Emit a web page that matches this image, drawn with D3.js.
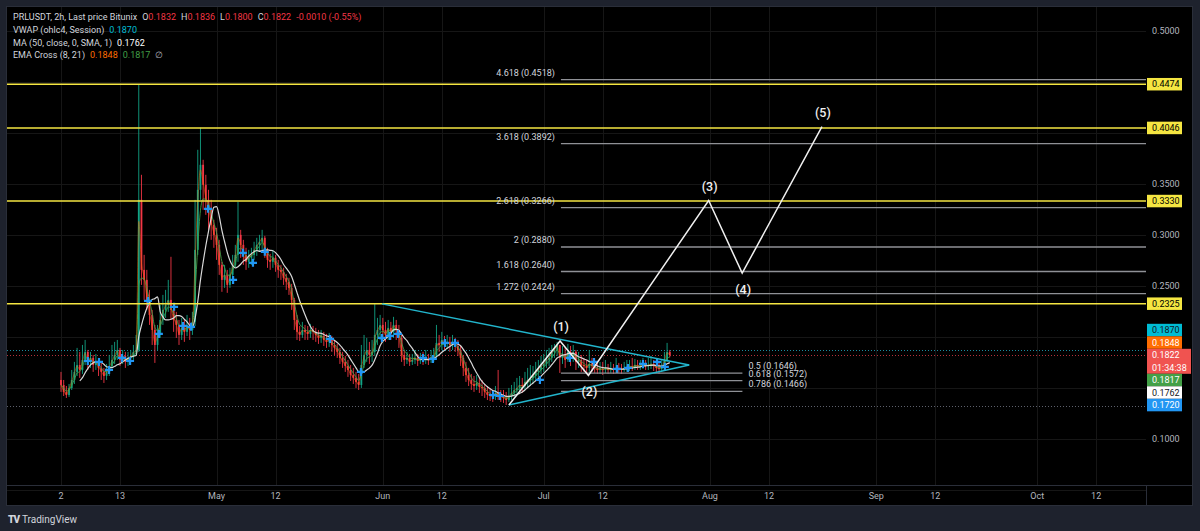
<!DOCTYPE html>
<html>
<head>
<meta charset="utf-8">
<script src="https://cdn.jsdelivr.net/npm/d3@7"></script>
<style>
  html, body { margin: 0; padding: 0; background: #1e222d; }
  svg { display: block; font-family: Roboto, "Liberation Sans", sans-serif; }
</style>
</head>
<body>
<svg id="chart" width="1200" height="531"></svg>
<script>
// ---------------------------------------------
// Data (PRLUSDT, resampled to 12h candles)
// ---------------------------------------------
const candleStart = "2025-04-02 00:00";
const candleStepHours = 12;
const firstOpen = 0.1578;

const closes = [
  0.1529,0.1461,0.1431,0.1500,0.1578,0.1657,0.1725,0.1676,0.1774,0.1853,
  0.1755,0.1794,0.1725,0.1755,0.1696,0.1657,0.1617,0.1657,0.1715,0.1774,
  0.1823,0.1872,0.1774,0.1813,0.1755,0.1794,0.1813,0.1853,0.1872,0.3342,
  0.2656,0.2558,0.2362,0.2215,0.2068,0.1921,0.2019,0.2166,0.2264,0.2313,
  0.2362,0.2264,0.2166,0.2117,0.2019,0.2088,0.2049,0.2117,0.2068,0.2147,
  0.2852,0.3440,0.3685,0.3489,0.3342,0.3244,0.3097,0.2999,0.2901,0.2705,
  0.2558,0.2607,0.2509,0.2607,0.2705,0.2803,0.2999,0.2901,0.2803,0.2735,
  0.2774,0.2803,0.2852,0.2901,0.2931,0.2970,0.2833,0.2754,0.2735,0.2774,
  0.2705,0.2656,0.2637,0.2578,0.2539,0.2480,0.2362,0.2166,0.2049,0.2019,
  0.2068,0.2049,0.2029,0.2068,0.2049,0.2019,0.1990,0.2009,0.1970,0.1951,
  0.1970,0.1921,0.1892,0.1853,0.1794,0.1755,0.1715,0.1676,0.1627,0.1598,
  0.1559,0.1529,0.1725,0.1823,0.1872,0.1823,0.1853,0.2019,0.2068,0.2117,
  0.2068,0.2019,0.2088,0.2049,0.2117,0.2068,0.1990,0.1823,0.1774,0.1794,
  0.1755,0.1774,0.1794,0.1764,0.1784,0.1774,0.1794,0.1774,0.1804,0.1813,
  0.1941,0.1921,0.1970,0.1931,0.1951,0.1921,0.1951,0.1911,0.1872,0.1794,
  0.1696,0.1627,0.1578,0.1539,0.1519,0.1549,0.1510,0.1500,0.1461,0.1431,
  0.1421,0.1412,0.1451,0.1431,0.1412,0.1402,0.1382,0.1421,0.1451,0.1480,
  0.1500,0.1529,0.1519,0.1559,0.1578,0.1598,0.1617,0.1657,0.1676,0.1715,
  0.1735,0.1774,0.1794,0.1853,0.1872,0.1921,0.1794,0.1823,0.1774,0.1853,
  0.1813,0.1853,0.1755,0.1774,0.1725,0.1715,0.1696,0.1735,0.1715,0.1696,
  0.1676,0.1686,0.1676,0.1696,0.1676,0.1686,0.1676,0.1696,0.1686,0.1676,
  0.1696,0.1706,0.1715,0.1706,0.1725,0.1715,0.1715,0.1735,0.1715,0.1725,
  0.1735,0.1715,0.1696,0.1686,0.1706,0.1774,0.1853,0.1822
];

const highs = [
  0.1657,0.1578,0.1519,0.1539,0.1676,0.1755,0.1892,0.1853,0.1921,0.1970,
  0.1872,0.1853,0.1823,0.1833,0.1794,0.1755,0.1696,0.1735,0.1823,0.1921,
  0.1951,0.1970,0.1892,0.1872,0.1853,0.1853,0.1872,0.1921,0.2019,0.4469,
  0.3587,0.2803,0.2656,0.2460,0.2264,0.2117,0.2117,0.2313,0.2411,0.2460,
  0.2558,0.2784,0.2313,0.2245,0.2166,0.2186,0.2166,0.2215,0.2186,0.2245,
  0.3342,0.3832,0.4048,0.3734,0.3587,0.3440,0.3342,0.3146,0.3068,0.2950,
  0.2735,0.2705,0.2656,0.2676,0.2803,0.2901,0.3323,0.3048,0.2950,0.2872,
  0.2852,0.2872,0.2931,0.2970,0.2999,0.3048,0.2989,0.2872,0.2813,0.2852,
  0.2803,0.2754,0.2705,0.2676,0.2617,0.2578,0.2519,0.2382,0.2215,0.2107,
  0.2147,0.2117,0.2107,0.2127,0.2107,0.2088,0.2068,0.2068,0.2049,0.2029,
  0.2039,0.2009,0.1970,0.1931,0.1892,0.1853,0.1813,0.1774,0.1725,0.1696,
  0.1657,0.1637,0.1921,0.2019,0.1990,0.1951,0.1970,0.2323,0.2186,0.2215,
  0.2186,0.2147,0.2166,0.2147,0.2196,0.2166,0.2117,0.2019,0.1872,0.1853,
  0.1833,0.1833,0.1872,0.1833,0.1843,0.1853,0.1872,0.1833,0.1872,0.1892,
  0.2117,0.2019,0.2049,0.2009,0.2019,0.2000,0.2019,0.1990,0.1970,0.1911,
  0.1823,0.1755,0.1696,0.1637,0.1617,0.1627,0.1598,0.1578,0.1539,0.1519,
  0.1500,0.1480,0.1519,0.1676,0.1480,0.1480,0.1461,0.1500,0.1529,0.1559,
  0.1598,0.1617,0.1598,0.1657,0.1696,0.1725,0.1715,0.1755,0.1774,0.1813,
  0.1833,0.1872,0.1892,0.1921,0.1931,0.1951,0.1921,0.1911,0.1892,0.1931,
  0.1911,0.1921,0.1872,0.1853,0.1823,0.1794,0.1774,0.1872,0.1794,0.1774,
  0.1755,0.1755,0.1755,0.1774,0.1735,0.1755,0.1735,0.1794,0.1745,0.1735,
  0.1755,0.1774,0.1774,0.1794,0.1784,0.1774,0.1774,0.1794,0.1774,0.1794,
  0.1813,0.1774,0.1755,0.1755,0.1774,0.1853,0.1941,0.1872
];

const lows = [
  0.1461,0.1421,0.1402,0.1412,0.1480,0.1539,0.1617,0.1598,0.1637,0.1725,
  0.1676,0.1696,0.1657,0.1676,0.1617,0.1578,0.1549,0.1578,0.1617,0.1696,
  0.1735,0.1774,0.1715,0.1735,0.1696,0.1715,0.1755,0.1774,0.1813,0.1853,
  0.2509,0.2362,0.2264,0.2117,0.1921,0.1745,0.1872,0.1990,0.2117,0.2186,
  0.2245,0.2166,0.2049,0.1990,0.1921,0.1970,0.1951,0.2009,0.1970,0.2019,
  0.2107,0.2803,0.3342,0.3244,0.3195,0.3048,0.2950,0.2872,0.2754,0.2607,
  0.2441,0.2480,0.2431,0.2480,0.2558,0.2676,0.2735,0.2774,0.2705,0.2656,
  0.2676,0.2705,0.2754,0.2793,0.2833,0.2852,0.2774,0.2676,0.2656,0.2676,
  0.2637,0.2578,0.2558,0.2509,0.2460,0.2411,0.2264,0.2068,0.1970,0.1960,
  0.1990,0.1970,0.1970,0.1990,0.1970,0.1951,0.1931,0.1941,0.1911,0.1892,
  0.1902,0.1853,0.1823,0.1794,0.1735,0.1696,0.1657,0.1608,0.1568,0.1539,
  0.1500,0.1480,0.1500,0.1696,0.1755,0.1735,0.1755,0.1813,0.1921,0.1970,
  0.1990,0.1951,0.1970,0.1970,0.1990,0.1970,0.1892,0.1755,0.1715,0.1735,
  0.1715,0.1725,0.1735,0.1715,0.1735,0.1725,0.1735,0.1725,0.1745,0.1755,
  0.1794,0.1853,0.1872,0.1872,0.1882,0.1853,0.1872,0.1853,0.1813,0.1715,
  0.1617,0.1559,0.1519,0.1480,0.1461,0.1480,0.1451,0.1421,0.1402,0.1382,
  0.1372,0.1363,0.1382,0.1382,0.1363,0.1353,0.1333,0.1363,0.1382,0.1412,
  0.1431,0.1461,0.1451,0.1480,0.1500,0.1519,0.1539,0.1578,0.1598,0.1637,
  0.1657,0.1696,0.1715,0.1755,0.1794,0.1813,0.1647,0.1735,0.1696,0.1755,
  0.1715,0.1755,0.1676,0.1696,0.1657,0.1657,0.1637,0.1657,0.1657,0.1647,
  0.1637,0.1637,0.1627,0.1647,0.1637,0.1647,0.1637,0.1647,0.1647,0.1637,
  0.1657,0.1657,0.1666,0.1666,0.1676,0.1676,0.1676,0.1686,0.1676,0.1676,
  0.1686,0.1666,0.1647,0.1637,0.1657,0.1676,0.1755,0.1800
];

// EMA cross markers (blue "+")
const crossPoints = [
  ["2025-04-07 00:00",0.1764],["2025-04-09 02:00",0.1755],["2025-04-10 23:00",0.1676],
  ["2025-04-13 09:00",0.1794],["2025-04-14 21:00",0.1764],["2025-04-18 05:00",0.2352],
  ["2025-04-20 06:00",0.2029],["2025-04-23 02:00",0.2294],["2025-04-24 18:00",0.2107],
  ["2025-04-26 06:00",0.2098],["2025-04-29 10:00",0.3254],["2025-05-04 02:00",0.2558],
  ["2025-05-05 22:00",0.2823],["2025-05-07 19:00",0.2725],["2025-05-10 00:00",0.2833],
  ["2025-05-22 04:00",0.1980],["2025-05-27 22:00",0.1657],["2025-05-31 20:00",0.1990],
  ["2025-06-02 08:00",0.2009],["2025-06-03 20:00",0.2029],["2025-06-08 12:00",0.1794],
  ["2025-06-10 08:00",0.1784],["2025-06-12 14:00",0.1941],["2025-06-14 11:00",0.1941],
  ["2025-06-21 13:00",0.1431],["2025-06-22 20:00",0.1421],["2025-06-30 07:00",0.1578],
  ["2025-07-05 21:00",0.1794],["2025-07-10 09:00",0.1755],["2025-07-14 16:00",0.1686],
  ["2025-07-16 17:00",0.1696],["2025-07-19 12:00",0.1735],["2025-07-22 03:00",0.1755],
  ["2025-07-23 14:00",0.1706]
];

// horizontal levels (yellow)
const hLevels = [0.4474, 0.4046, 0.3330, 0.2325];

// trend-based fib extension
const fibUpperRatios = ["4.618", "3.618", "2.618", "2", "1.618", "1.272"];
const fibUpperPrices = [0.4518, 0.3892, 0.3266, 0.2880, 0.2640, 0.2424];
const fibLowerRatios = ["0.5", "0.618", "0.786"];
const fibLowerPrices = [0.1646, 0.1572, 0.1466];
const fibStart = "2025-07-04 05:00";
const fibLowerEnd = "2025-08-07 01:00";

// Elliott waves
const waveDates  = ["2025-06-24 12:00","2025-07-04 01:00","2025-07-09 08:00","2025-07-31 18:00","2025-08-07 00:00","2025-08-21 21:00"];
const wavePrices = [0.1333, 0.1960, 0.1622, 0.3335, 0.2624, 0.4058];
const waveLabels = ["", "(1)", "(2)", "(3)", "(4)", "(5)"];

// triangle
const triUpper = [["2025-05-31 20:00", 0.2323], ["2025-07-28 03:00", 0.1725]];
const triLower = [["2025-06-24 12:00", 0.1333], ["2025-07-28 03:00", 0.1725]];

// axes
const timeTicks = ["2025-04-02","2025-04-13","2025-05-01","2025-05-12","2025-06-01","2025-06-12",
  "2025-07-01","2025-07-12","2025-08-01","2025-08-12","2025-09-01","2025-09-12","2025-10-01","2025-10-12"];
const priceGrid = [0.05,0.10,0.15,0.20,0.25,0.30,0.35,0.40,0.45,0.50];
const priceLabels = [0.10, 0.25, 0.30, 0.35, 0.50];

// price line values
const lastPrice = 0.1822;
const vwapPrice = 0.1870;
const dottedLevel = 0.1323;
const tagValues = [0.1870, 0.1848, 0.1822, 0.1817, 0.1762, 0.1720];
const timer = "01:34:38";

// legend
const legendOHLC = [["O", "0.1832"], ["H", "0.1836"], ["L", "0.1800"], ["C", "0.1822"]];
const legendChange = "-0.0010 (-0.55%)";

// ---------------------------------------------
// Layout
// ---------------------------------------------
const frame = { left: 7, top: 7, right: 1192, bottom: 505 };
const paneBottom = 485;
const axisLeft = 1146;

const parse = d3.utcParse("%Y-%m-%d %H:%M");
const parseDay = d3.utcParse("%Y-%m-%d");

const x = d3.scaleUtc()
  .domain([parseDay("2025-04-02"), parseDay("2025-08-01")])
  .range([61, 710]);
const y = d3.scaleLinear().domain([0.1, 0.5]).range([439, 30.5]);

const svg = d3.select("#chart");

// chart frame
svg.append("rect")
  .attr("x", frame.left - 0.5).attr("y", frame.top - 0.5)
  .attr("width", frame.right - frame.left + 1).attr("height", frame.bottom - frame.top + 1)
  .attr("fill", "#000").attr("stroke", "#2a2e39");

svg.append("defs").append("clipPath").attr("id", "pane")
  .append("rect")
  .attr("x", frame.left).attr("y", frame.top)
  .attr("width", axisLeft - frame.left).attr("height", paneBottom - frame.top);

// grid
const grid = svg.append("g");
grid.selectAll(".vg").data(timeTicks).enter().append("line")
  .attr("x1", d => Math.round(x(parseDay(d))) + 0.5)
  .attr("x2", d => Math.round(x(parseDay(d))) + 0.5)
  .attr("y1", frame.top).attr("y2", paneBottom)
  .attr("stroke", "#161616");
grid.selectAll(".hg").data(priceGrid).enter().append("line")
  .attr("x1", frame.left).attr("x2", axisLeft)
  .attr("y1", d => Math.round(y(d)) + 0.5)
  .attr("y2", d => Math.round(y(d)) + 0.5)
  .attr("stroke", "#161616");

// pane / axis separators
svg.append("line")
  .attr("x1", frame.left).attr("x2", frame.right)
  .attr("y1", paneBottom + 0.5).attr("y2", paneBottom + 0.5)
  .attr("stroke", "#2a2e39");
svg.append("line")
  .attr("x1", axisLeft + 0.5).attr("x2", axisLeft + 0.5)
  .attr("y1", paneBottom).attr("y2", frame.bottom)
  .attr("stroke", "#2a2e39");

const pane = svg.append("g").attr("clip-path", "url(#pane)");

// dotted price lines
function dotted(v, color) {
  pane.append("line")
    .attr("x1", frame.left).attr("x2", axisLeft)
    .attr("y1", Math.round(y(v)) + 0.5).attr("y2", Math.round(y(v)) + 0.5)
    .attr("stroke", color).attr("stroke-dasharray", "1,2");
}
dotted(vwapPrice, "#1a8ca0");
dotted(lastPrice, "#b3303a");
dotted(dottedLevel, "#5d606b");

// ---------------------------------------------
// Candles
// ---------------------------------------------
const t0 = parse(candleStart);
const candles = closes.map((c, i) => ({
  t: new Date(t0.getTime() + i * candleStepHours * 3600e3),
  o: i === 0 ? firstOpen : closes[i - 1],
  h: highs[i],
  l: lows[i],
  c: c
}));

const upColor = "#12a385";
const downColor = "#f23645";
const cg = pane.append("g");
cg.selectAll(".wick").data(candles).enter().append("line")
  .attr("x1", d => x(d.t)).attr("x2", d => x(d.t))
  .attr("y1", d => y(d.h)).attr("y2", d => y(d.l))
  .attr("stroke", d => d.c >= d.o ? upColor : downColor)
  .attr("stroke-width", 0.9);
cg.selectAll(".body").data(candles).enter().append("rect")
  .attr("x", d => x(d.t) - 0.9)
  .attr("width", 1.8)
  .attr("y", d => y(Math.max(d.o, d.c)))
  .attr("height", d => Math.max(1, Math.abs(y(d.o) - y(d.c))))
  .attr("fill", d => d.c >= d.o ? upColor : downColor);

// indicators: SMA 50 (2h) ~ 8 x 12h, EMA 8 / 21 (2h)
const smaLen = 8;
const sma = candles.map((d, i) => i < smaLen - 1 ? null :
  { t: d.t, v: d3.mean(closes.slice(i - smaLen + 1, i + 1)) }).filter(Boolean);
function ema(span) {
  const a = 2 / (span + 1);
  let prev = closes[0];
  return candles.map((d, i) => {
    prev = i === 0 ? d.c : a * d.c + (1 - a) * prev;
    return { t: d.t, v: prev };
  });
}
const ema8 = ema(16 / candleStepHours);
const ema21 = ema(42 / candleStepHours);

const line = d3.line().x(d => x(d.t)).y(d => y(d.v)).curve(d3.curveMonotoneX);
pane.append("path").datum(ema21).attr("d", line)
  .attr("fill", "none").attr("stroke", "#43a047").attr("stroke-width", 1).attr("opacity", 0.9);
pane.append("path").datum(ema8).attr("d", line)
  .attr("fill", "none").attr("stroke", "#ff6d00").attr("stroke-width", 0.8).attr("opacity", 0.6);
pane.append("path").datum(sma).attr("d", line)
  .attr("fill", "none").attr("stroke", "#d9d9d9").attr("stroke-width", 1.2);

// cross markers
pane.selectAll(".cross").data(crossPoints).enter().append("path")
  .attr("transform", d => `translate(${x(parse(d[0]))},${y(d[1])})`)
  .attr("d", "M-4,0H4M0,-4V4")
  .attr("stroke", "#2196f3").attr("stroke-width", 2.2);

// ---------------------------------------------
// Drawings
// ---------------------------------------------
// yellow levels
pane.selectAll(".hl").data(hLevels).enter().append("line")
  .attr("x1", frame.left).attr("x2", axisLeft)
  .attr("y1", d => y(d)).attr("y2", d => y(d))
  .attr("stroke", "#f5e642").attr("stroke-width", 1.5);

// fib extension
const fibX0 = x(parse(fibStart));
const fibX1 = x(parse(fibLowerEnd));
pane.selectAll(".fu").data(fibUpperPrices).enter().append("line")
  .attr("x1", fibX0).attr("x2", axisLeft)
  .attr("y1", d => y(d)).attr("y2", d => y(d))
  .attr("stroke", "#8f9196").attr("stroke-width", 1.3);
pane.selectAll(".fut").data(fibUpperPrices).enter().append("text")
  .attr("x", fibX0 - 6).attr("y", d => y(d) - 4)
  .attr("text-anchor", "end")
  .attr("fill", "#d1d4dc").attr("font-size", "9px")
  .text((d, i) => `${fibUpperRatios[i]} (${d.toFixed(4)})`);
pane.selectAll(".fl").data(fibLowerPrices).enter().append("line")
  .attr("x1", fibX0).attr("x2", fibX1)
  .attr("y1", d => y(d)).attr("y2", d => y(d))
  .attr("stroke", "#8f9196").attr("stroke-width", 1.3);
pane.selectAll(".flt").data(fibLowerPrices).enter().append("text")
  .attr("x", fibX1 + 6).attr("y", d => y(d) - 4)
  .attr("fill", "#d1d4dc").attr("font-size", "9px")
  .text((d, i) => `${fibLowerRatios[i]} (${d.toFixed(4)})`);

// triangle
const triLine = d3.line().x(d => x(parse(d[0]))).y(d => y(d[1]));
[triUpper, triLower].forEach(seg => {
  pane.append("path").attr("d", triLine(seg))
    .attr("fill", "none").attr("stroke", "#22b5cc").attr("stroke-width", 1.5);
});

// waves
const waves = waveDates.map((d, i) => ({ t: parse(d), v: wavePrices[i], label: waveLabels[i] }));
pane.append("path")
  .datum(waves)
  .attr("d", d3.line().x(d => x(d.t)).y(d => y(d.v)))
  .attr("fill", "none").attr("stroke", "#f0f0f0").attr("stroke-width", 1.5);
pane.selectAll(".wl").data(waves.filter(d => d.label)).enter().append("text")
  .attr("x", d => x(d.t) + 1)
  .attr("y", (d, i) => i % 2 === 0 ? y(d.v) - 10 : y(d.v) + 21)
  .attr("text-anchor", "middle")
  .attr("fill", "#f0f0f0").attr("font-size", "12.5px").attr("font-weight", 500)
  .text(d => d.label);

// ---------------------------------------------
// Axes
// ---------------------------------------------
svg.append("g").selectAll("text").data(priceLabels).enter().append("text")
  .attr("x", 1152).attr("y", d => y(d)).attr("dy", "0.35em")
  .attr("fill", "#b2b5be").attr("font-size", "9px")
  .text(d => d.toFixed(4));

const monthFmt = d3.utcFormat("%b");
svg.append("g").selectAll("text").data(timeTicks).enter().append("text")
  .attr("x", d => x(parseDay(d))).attr("y", 496).attr("dy", "0.35em")
  .attr("text-anchor", "middle")
  .attr("fill", "#b2b5be").attr("font-size", "9px")
  .text(d => {
    const t = parseDay(d);
    return t.getUTCDate() === 1 ? monthFmt(t) : String(t.getUTCDate());
  });

// price axis tags
const tagH = 12.5;
const tags = svg.append("g");
function tag(v, top, h, bg, fg, lines, w) {
  tags.append("rect").attr("x", 1147).attr("y", top).attr("width", w || 35).attr("height", h)
    .attr("fill", bg);
  lines.forEach((s, i) => {
    tags.append("text").attr("x", 1152).attr("y", top + tagH / 2 + i * tagH).attr("dy", "0.35em")
      .attr("fill", fg).attr("font-size", "9px").text(s);
  });
}
hLevels.forEach(v => tag(v, y(v) - tagH / 2, tagH, "#f5e642", "#000", [v.toFixed(4)]));

const tagBg = ["#00bcd4", "#ff6d00", "#f05350", "#43a047", "#ffffff", "#2196f3"];
const tagFg = ["#131722", "#ffffff", "#ffffff", "#ffffff", "#131722", "#ffffff"];
const anchorIdx = tagValues.indexOf(lastPrice);
const tops = [];
const heights = tagValues.map((v, i) => i === anchorIdx ? tagH * 2 : tagH);
tops[anchorIdx] = y(lastPrice) - tagH / 2;
for (let i = anchorIdx - 1; i >= 0; i--) {
  tops[i] = Math.min(y(tagValues[i]) - tagH / 2, tops[i + 1] - heights[i]);
}
for (let i = anchorIdx + 1; i < tagValues.length; i++) {
  tops[i] = Math.max(y(tagValues[i]) - tagH / 2, tops[i - 1] + heights[i - 1]);
}
tagValues.forEach((v, i) => {
  const lines = i === anchorIdx ? [v.toFixed(4), timer] : [v.toFixed(4)];
  tag(v, tops[i], heights[i], tagBg[i], tagFg[i], lines, i === anchorIdx ? 44 : 35);
});

// ---------------------------------------------
// Legend
// ---------------------------------------------
const legend = svg.append("g").attr("font-size", "9px");
const l1 = legend.append("text").attr("x", 13).attr("y", 17).attr("dy", "0.35em").attr("fill", "#d1d4dc");
l1.append("tspan").text("PRLUSDT, 2h, Last price Bitunix");
legendOHLC.forEach(([k, v]) => {
  l1.append("tspan").attr("dx", 5).text(k);
  l1.append("tspan").attr("fill", "#f23645").text(v);
});
l1.append("tspan").attr("dx", 5).attr("fill", "#f23645").text(legendChange);

const l2 = legend.append("text").attr("x", 13).attr("y", 30).attr("dy", "0.35em").attr("fill", "#d1d4dc");
l2.append("tspan").text("VWAP (ohlc4, Session)");
l2.append("tspan").attr("dx", 5).attr("fill", "#00bcd4").text(vwapPrice.toFixed(4));

const l3 = legend.append("text").attr("x", 13).attr("y", 43).attr("dy", "0.35em").attr("fill", "#d1d4dc");
l3.append("tspan").text("MA (50, close, 0, SMA, 1)");
l3.append("tspan").attr("dx", 5).attr("fill", "#ffffff").text("0.1762");

const l4 = legend.append("text").attr("x", 13).attr("y", 55).attr("dy", "0.35em").attr("fill", "#d1d4dc");
l4.append("tspan").text("EMA Cross (8, 21)");
l4.append("tspan").attr("dx", 5).attr("fill", "#ff6d00").text("0.1848");
l4.append("tspan").attr("dx", 5).attr("fill", "#43a047").text("0.1817");
l4.append("tspan").attr("dx", 5).attr("fill", "#b2b5be").text("\u2205");

// footer logo
const logo = svg.append("g").attr("fill", "#d1d4dc");
logo.append("text").attr("x", 8).attr("y", 523).attr("font-size", "10px").attr("font-weight", 900)
  .attr("letter-spacing", "-1px").text("TV");
logo.append("text").attr("x", 22).attr("y", 523).attr("font-size", "10px").text("TradingView");
</script>
</body>
</html>
